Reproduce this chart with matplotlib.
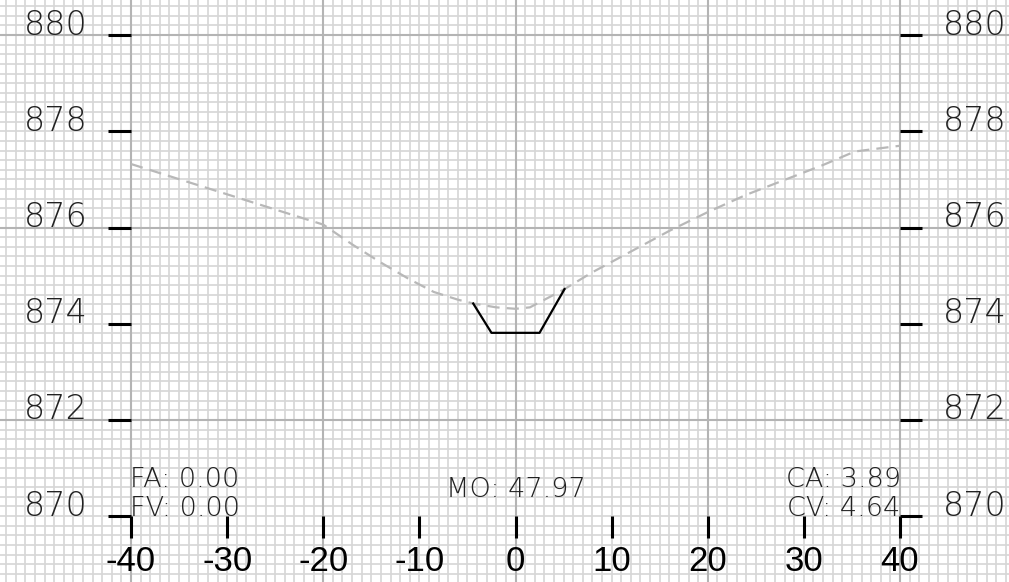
import matplotlib
matplotlib.use("Agg")
import matplotlib.pyplot as plt
import numpy as np

# 地面线 (terrain, dashed grey)
ground_x = [-40, -20, -17, -14, -11, -8.5, -6, -4.4, -2, 0, 1.5, 3.5, 5.1, 8, 12, 16, 20, 24, 28, 32, 35.3, 40]
ground_y = [877.32, 876.06, 875.65, 875.27, 874.92, 874.66, 874.50, 874.42, 874.34, 874.31, 874.34,
            874.55, 874.72, 875.07, 875.50, 875.93, 876.32, 876.68, 876.99, 877.30, 877.58, 877.70]

# 设计断面 (channel section, black)
channel_x = [-4.4, -2.5, 2.5, 5.1]
channel_y = [874.42, 873.81, 873.81, 874.72]

x_ticks = [-40, -30, -20, -10, 0, 10, 20, 30, 40]
y_ticks = [870, 872, 874, 876, 878, 880]

left_notes = ["FA: 0.00", "FV: 0.00"]
mid_note = "MO: 47.97"
right_notes = ["CA: 3.89", "CV: 4.64"]

XMIN, XMAX = -53.63, 51.34
YMIN, YMAX = 868.63, 880.73

fig = plt.figure(figsize=(10.09, 5.82), dpi=100)
ax = fig.add_axes([0, 0, 1, 1])
ax.set_xlim(XMIN, XMAX)
ax.set_ylim(YMIN, YMAX)
ax.axis('off')

# 网格
for gx in np.arange(-60, 61, 1):
    major = gx % 20 == 0
    ax.axvline(gx, color='#b4b4b4' if major else '#d6d6d6', lw=1.5 if major else 1.2, zorder=1 if major else 0)
for gy in np.arange(864, 884.01, 0.2):
    gy = round(gy, 1)
    major = abs(gy / 4 - round(gy / 4)) < 1e-6
    ax.axhline(gy, color='#b4b4b4' if major else '#d6d6d6', lw=1.5 if major else 1.2, zorder=1 if major else 0)

# 断面线
ax.plot(ground_x, ground_y, color='#b8b8b8', lw=1.6, dashes=(5.5, 3.2), zorder=3)
ax.plot(channel_x, channel_y, color='black', lw=1.6, zorder=4)

thin = dict(family=['DejaVu Sans'], fontweight='light', color='#222222')

# 高程刻度
for yv in y_ticks:
    ax.plot([-42.4, -40], [yv, yv], color='black', lw=2.2, solid_capstyle='butt', zorder=5)
    ax.plot([40, 42.3], [yv, yv], color='black', lw=2.2, solid_capstyle='butt', zorder=5)
    ax.text(-47.85, yv + 0.01, str(yv), ha='center', va='baseline', fontsize=24, **thin)
    ax.text(47.75, yv + 0.01, str(yv), ha='center', va='baseline', fontsize=24, **thin)

# 距离刻度
for xv in x_ticks:
    ax.plot([xv, xv], [870, 869.54], color='black', lw=2.2, solid_capstyle='butt', zorder=5)
    ax.text(xv, 869.06, str(xv), ha='center', va='center', fontsize=25,
            family=['Liberation Sans Narrow', 'Liberation Sans'], color='black')

# 注释
ax.text(-40.1, 870.60, left_notes[0], ha='left', va='baseline', fontsize=19.5, **thin)
ax.text(-40.1, 870.0, left_notes[1], ha='left', va='baseline', fontsize=19.5, **thin)
ax.text(0, 870.40, mid_note, ha='center', va='baseline', fontsize=19.5, **thin)
ax.text(40.1, 870.60, right_notes[0], ha='right', va='baseline', fontsize=19.5, **thin)
ax.text(40.0, 870.0, right_notes[1], ha='right', va='baseline', fontsize=19.5, **thin)

fig.savefig('out.png', dpi=100)
